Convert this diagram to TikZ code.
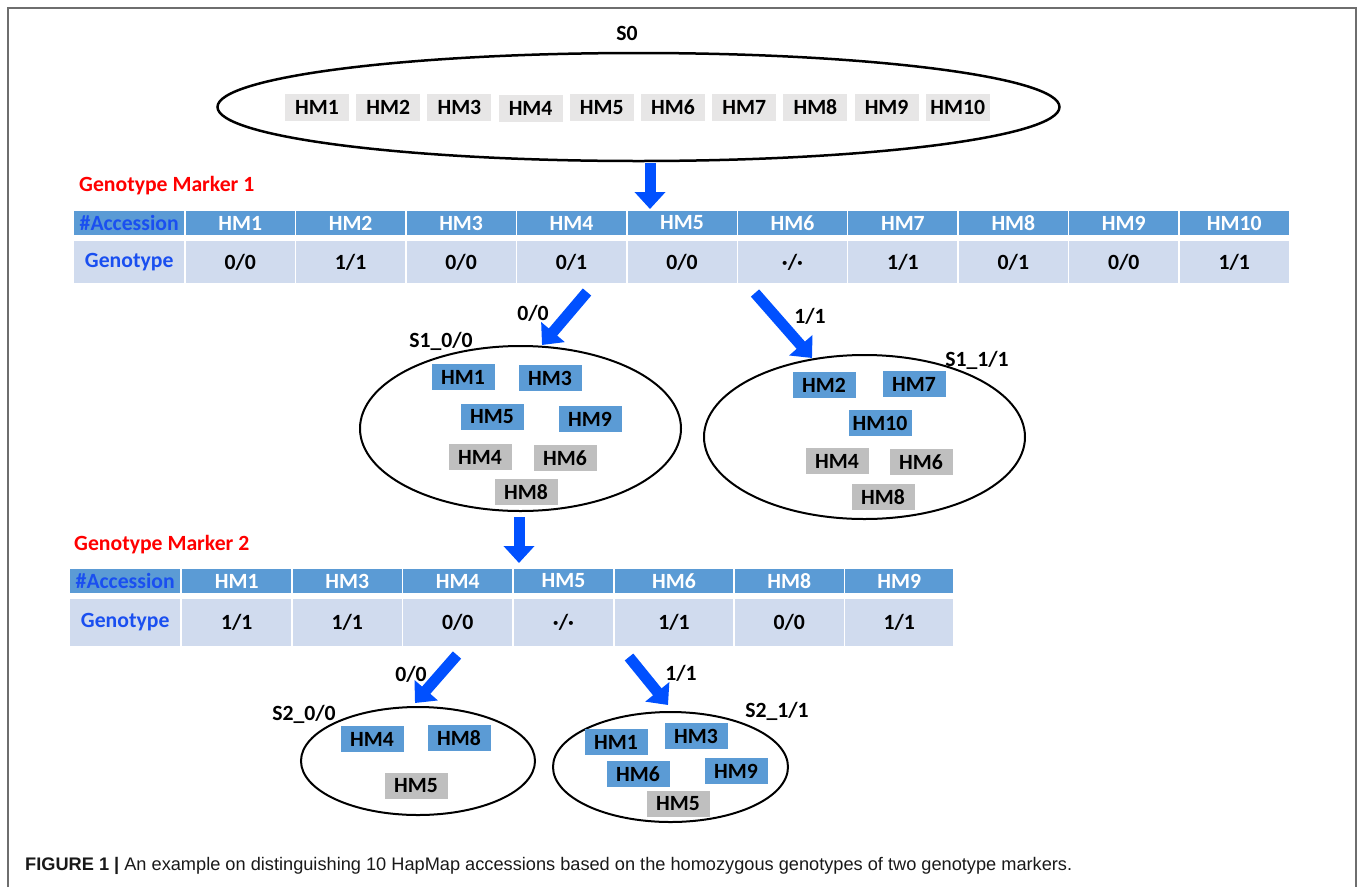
\documentclass[tikz,border=0pt]{standalone}
\usepackage{fontspec}
\setmainfont{Carlito}
\newfontfamily\capfont{Liberation Sans}
\usetikzlibrary{shapes.geometric,arrows.meta}

\definecolor{hdrblue}{HTML}{5B9BD5}
\definecolor{rowblue}{HTML}{D0DBEE}
\definecolor{labblue}{HTML}{1A4FF0}
\definecolor{arrblue}{HTML}{0050FF}
\definecolor{boxgrey}{HTML}{BFBFBF}
\definecolor{lightgrey}{HTML}{E7E6E6}
\definecolor{framegrey}{HTML}{6E6E6E}
\definecolor{markred}{HTML}{FF0000}

\newcommand\bigfont{\fontsize{21.7}{25}\selectfont\bfseries}

\tikzset{
  txt/.style={font=\bigfont, inner sep=0pt},
  hm/.style={font=\bigfont, inner sep=0pt, minimum width=63pt, minimum height=26pt},
  hmblue/.style={hm, fill=hdrblue},
  hmgrey/.style={hm, fill=boxgrey},
  hmlight/.style={hm, fill=lightgrey, minimum width=64pt, minimum height=27pt},
  group/.style={ellipse, draw, line width=2pt, inner sep=0pt},
  flow/.style={draw=arrblue, line width=11pt, -{Triangle[width=30pt,length=17pt]}},
  cell/.style={inner sep=0pt, anchor=west, font=\bigfont},
  hcell/.style={cell, fill=hdrblue, text=white, minimum height=24pt},
  dcell/.style={cell, fill=rowblue, minimum height=42pt},
  marker/.style={txt, text=markred, anchor=west},
}

\begin{document}
\begin{tikzpicture}[x=1pt, y=-1pt]
\useasboundingbox (0,0) rectangle (1358,887);

% outer frame
\coordinate (fbl) at (8,887);
\coordinate (ftl) at (8,8);
\coordinate (ftr) at (1356,8);
\coordinate (fbr) at (1356,887);
\draw[framegrey, line width=1.5pt] (fbl) -- (ftl) -- (ftr) -- (fbr);

% start set S0
\node[txt] (s0lab) at (627,33) {S0};
\node[group, line width=2.5pt, minimum width=842pt, minimum height=108pt] (s0) at (638.5,107) {};
\foreach \i in {1,...,10}{
  \node[hmlight] (s0hm\i) at ({317+(\i-1)*71.2},{\ifnum\i=4 108.5\else 107.5\fi}) {HM\i};
}

% marker 1 table
\node[marker] (m1lab) at (79,186) {Genotype Marker 1};
\node[hcell, minimum width=110pt] (m1h0) at (74,223) {\textcolor{labblue}{\#Accession}};
\node[dcell, minimum width=110pt] (m1d0) at (74,262) {\textcolor{labblue}{Genotype}};
\foreach \g [count=\i] in {{0/0},{1/1},{0/0},{0/1},{0/0},{·/·},{1/1},{0/1},{0/0},{1/1}}{
  \node[hcell, minimum width=109pt] (m1h\i) at ({185.5+(\i-1)*110.45},223) {HM\i};
  \node[dcell, minimum width=109pt] (m1d\i) at ({185.5+(\i-1)*110.45},262) {\g};
}

% arrows out of S0 and marker 1
\coordinate (a0s) at (650,163);
\coordinate (a0e) at (650,209);
\draw[flow] (a0s) -- (a0e);
\coordinate (a1s) at (587,292);
\coordinate (a1e) at (542,345);
\draw[flow] (a1s) -- (a1e);
\node[txt] (a1lab) at (533,313) {0/0};
\coordinate (a2s) at (755,293);
\coordinate (a2e) at (812,358);
\draw[flow] (a2s) -- (a2e);
\node[txt] (a2lab) at (810,316) {1/1};

% set S1_0/0
\node[txt] (s10lab) at (441,341) {S1\_0/0};
\node[group, minimum width=321pt, minimum height=165pt] (s10) at (520.5,428.5) {};
\node[hmblue] (s10a) at (463,377) {HM1};
\node[hmblue] (s10b) at (550,378) {HM3};
\node[hmblue] (s10c) at (492,417) {HM5};
\node[hmblue] (s10d) at (590,419) {HM9};
\node[hmgrey] (s10e) at (480,457) {HM4};
\node[hmgrey] (s10f) at (565,458) {HM6};
\node[hmgrey] (s10g) at (526,492) {HM8};

% set S1_1/1
\node[txt] (s11lab) at (977,360) {S1\_1/1};
\node[group, minimum width=321pt, minimum height=164pt] (s11) at (864.5,437) {};
\node[hmblue] (s11a) at (824,385) {HM2};
\node[hmblue] (s11b) at (914,384) {HM7};
\node[hmblue] (s11c) at (880,423) {HM10};
\node[hmgrey] (s11d) at (837,461) {HM4};
\node[hmgrey] (s11e) at (921,462) {HM6};
\node[hmgrey] (s11f) at (883,497) {HM8};

% arrow into marker 2
\coordinate (a3s) at (519,517);
\coordinate (a3e) at (519,563);
\draw[flow] (a3s) -- (a3e);

% marker 2 table
\node[marker] (m2lab) at (74,545) {Genotype Marker 2};
\node[hcell, minimum width=110pt] (m2h0) at (70,581) {\textcolor{labblue}{\#Accession}};
\node[dcell, minimum width=110pt, minimum height=47pt] (m2d0) at (70,622.5) {\textcolor{labblue}{Genotype}};
\foreach \l/\w/\h/\g [count=\i] in {182/109/HM1/{1/1},292.5/109/HM3/{1/1},403/109/HM4/{0/0},513.5/99.5/HM5/{·/·},614.5/118.5/HM6/{1/1},734.5/109/HM8/{0/0},845/108/HM9/{1/1}}{
  \node[hcell, minimum width=\w pt] (m2h\i) at (\l,581) {\h};
  \node[dcell, minimum width=\w pt, minimum height=47pt] (m2d\i) at (\l,622.5) {\g};
}

% arrows out of marker 2
\coordinate (a4s) at (457,655);
\coordinate (a4e) at (415,703);
\draw[flow] (a4s) -- (a4e);
\node[txt] (a4lab) at (411,674) {0/0};
\coordinate (a5s) at (629,657);
\coordinate (a5e) at (668,705);
\draw[flow] (a5s) -- (a5e);
\node[txt] (a5lab) at (681,673) {1/1};

% set S2_0/0
\node[txt] (s20lab) at (304,714) {S2\_0/0};
\node[group, minimum width=234pt, minimum height=108pt] (s20) at (418,761) {};
\node[hmblue] (s20a) at (372,739) {HM4};
\node[hmblue] (s20b) at (459,738) {HM8};
\node[hmgrey] (s20c) at (416,786) {HM5};

% set S2_1/1
\node[txt] (s21lab) at (777,711) {S2\_1/1};
\node[group, minimum width=235pt, minimum height=110pt] (s21) at (670.5,767) {};
\node[hmblue] (s21a) at (616,742) {HM1};
\node[hmblue] (s21b) at (696,736) {HM3};
\node[hmblue] (s21c) at (638,774) {HM6};
\node[hmblue] (s21d) at (736,771) {HM9};
\node[hmgrey] (s21e) at (678,804) {HM5};

% caption
\node[anchor=west, inner sep=0pt, text=black!90] (cap) at (25,866)
  {\capfont\fontsize{18.2}{21}\selectfont\textbf{FIGURE 1 |} An example on distinguishing 10 HapMap accessions based on the homozygous genotypes of two genotype markers.};
\end{tikzpicture}
\end{document}
